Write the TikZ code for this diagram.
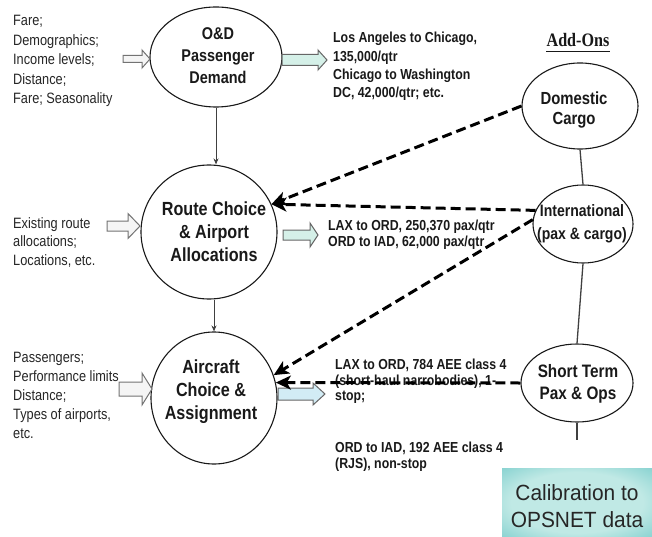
\documentclass[tikz,border=0pt]{standalone}
\usepackage{fontspec}
\setmainfont[FakeStretch=0.85]{Liberation Sans}
\newfontfamily\addfont[FakeStretch=0.85]{Liberation Serif}
\newfontfamily\calfont[FakeStretch=0.95]{Liberation Sans}
\usetikzlibrary{shapes.geometric,arrows.meta}
\definecolor{outteal}{RGB}{213,240,232}
\definecolor{outblue}{RGB}{210,236,245}
\definecolor{calin}{RGB}{192,233,229}
\definecolor{calout}{RGB}{96,194,194}
\pgfdeclareradialshading{calshade}{\pgfpoint{0bp}{0bp}}{color(0bp)=(calin); color(22bp)=(calin); color(46bp)=(calout); color(75bp)=(calout)}
\newcommand\fs[2]{\fontsize{#1}{#2}\selectfont}
\newcommand\blkarrow[7]{\draw[#7] (#1,#4-#5) -- (#2,#4-#5) -- (#2,#4-#6) -- (#3,#4) -- (#2,#4+#6) -- (#2,#4+#5) -- (#1,#4+#5) -- cycle;}
\begin{document}
\begin{tikzpicture}[x=1pt,y=-1pt,
  bubble/.style={ellipse,draw=black!90,line width=1.1pt,inner sep=0pt},
  bubtxt/.style={inner sep=0pt,align=center,font=\bfseries,text=black!90},
  lefttxt/.style={anchor=north west,inner sep=0pt,align=left,text=black!85},
  righttxt/.style={anchor=north west,inner sep=0pt,align=left,font=\bfseries,text=black!90},
  feed/.style={draw=black!75,line width=1pt,-{Stealth[length=6pt,width=5pt]}},
  addon/.style={draw=black,line width=3pt,dash pattern=on 10pt off 5pt,-{Stealth[length=15pt,width=14pt,inset=4pt]}},
  link/.style={draw=black!75,line width=1.3pt},
  inarrow/.style={draw=black!55,line width=1pt,fill=black!4},
  outarrow/.style={draw=black!60,line width=1pt,fill=outteal},
  outarrowb/.style={draw=black!60,line width=1pt,fill=outblue},
]
\useasboundingbox (0,0) rectangle (652,537);
\fill[white] (0,0) rectangle (652,537);

% calibration box
\node[draw=none,minimum width=150pt,minimum height=69pt,shading=calshade] (cal) at (577,502.5) {};
\node[inner sep=0pt,align=center,text=black!85,font=\calfont\fs{22}{27}] (caltxt) at (577,506.5) {Calibration to\\OPSNET data};

% main bubbles
\node[bubble,minimum width=132pt,minimum height=100pt] (od) at (216,57) {};
\node[bubble,minimum width=136pt,minimum height=134pt] (route) at (209,232) {};
\node[bubble,minimum width=126pt,minimum height=132pt] (air) at (214,398) {};
\node[bubtxt,font=\bfseries\fs{17}{22}] (odtxt) at (218,56) {O\&D\\Passenger\\Demand};
\node[bubtxt,font=\bfseries\fs{19}{23}] (routetxt) at (214,232) {Route Choice\\\& Airport\\Allocations};
\node[bubtxt,font=\bfseries\fs{19}{23}] (airtxt) at (211,392) {Aircraft\\Choice \&\\Assignment};

% add-on bubbles
\node[bubble,minimum width=116pt,minimum height=86pt] (dom) at (580,106) {};
\node[bubble,minimum width=100pt,minimum height=78pt] (intl) at (583,224) {};
\node[bubble,minimum width=112pt,minimum height=78pt] (short) at (577,383) {};
\node[bubtxt,font=\bfseries\fs{17.5}{20}] (domtxt) at (574,110) {Domestic\\Cargo};
\node[bubtxt,font=\bfseries\fs{16.5}{23}] (intltxt) at (582,224) {International\\(pax \& cargo)};
\node[bubtxt,font=\bfseries\fs{18}{21.5}] (shorttxt) at (578,384) {Short Term\\Pax \& Ops};

% Add-Ons heading
\node[inner sep=0pt,anchor=base,font=\addfont\bfseries\fs{19}{22},text=black!90] (addons) at (578,47) {Add-Ons};
\draw[line width=1.6pt,black!90] ([yshift=-4.5pt]addons.base west) -- ([yshift=-4.5pt]addons.base east);

% vertical links in add-on column
\coordinate (tail) at (577,440);
\draw[link] (dom.south) -- (intl.north);
\draw[link] (intl.south) -- (short.north);
\draw[link] (short.south) -- (tail);

% feed arrows between main bubbles
\draw[feed] (od.south) -- (od.south |- route.north);
\draw[feed] (route.south -| air.north) -- (air.north);

% side texts
\node[lefttxt,font=\fs{15}{19.5}] (in1) at (13,15) {Fare;\\Demographics;\\Income levels;\\Distance;\\Fare; Seasonality};
\node[righttxt,font=\bfseries\fs{14.5}{18.3}] (out1) at (333,32) {Los Angeles to Chicago,\\135,000/qtr\\Chicago to Washington\\DC, 42,000/qtr; etc.};
\node[lefttxt,font=\fs{15}{18.5}] (in2) at (13,217) {Existing route\\allocations;\\Locations, etc.};
\node[righttxt,font=\bfseries\fs{14.5}{16}] (out2) at (328,220) {LAX to ORD, 250,370 pax/qtr\\ORD to IAD, 62,000 pax/qtr};
\node[lefttxt,font=\fs{15}{19}] (in3) at (13,352) {Passengers;\\Performance limits\\Distance;\\Types of airports,\\etc.};
\node[righttxt,font=\bfseries\fs{14.5}{15.5}] (out3) at (335,359) {LAX to ORD, 784 AEE class 4\\(short-haul narrobodies), 1-\\stop;};
\node[righttxt,font=\bfseries\fs{14.5}{16}] (out4) at (335,442) {ORD to IAD, 192 AEE class 4\\(RJS), non-stop};

% block arrows
\blkarrow{123}{142}{150}{59}{3.5}{9}{inarrow}
\blkarrow{282}{318}{327}{60}{5.5}{10}{outarrow}
\blkarrow{107}{128}{140}{226}{5}{12.5}{inarrow}
\blkarrow{283}{310}{318}{235}{5}{12}{outarrow}
\blkarrow{119}{142}{152}{389}{7}{16}{inarrow}
\blkarrow{278}{313}{325}{394}{6}{11}{outarrowb}

% dashed add-on connectors
\draw[addon] (dom.west) -- (route.24);
\draw[addon] (intl.164) -- (route.24);
\draw[addon] (intl.175) -- (air.21);
\draw[addon] (short.west) -- (air.14);
\end{tikzpicture}
\end{document}
